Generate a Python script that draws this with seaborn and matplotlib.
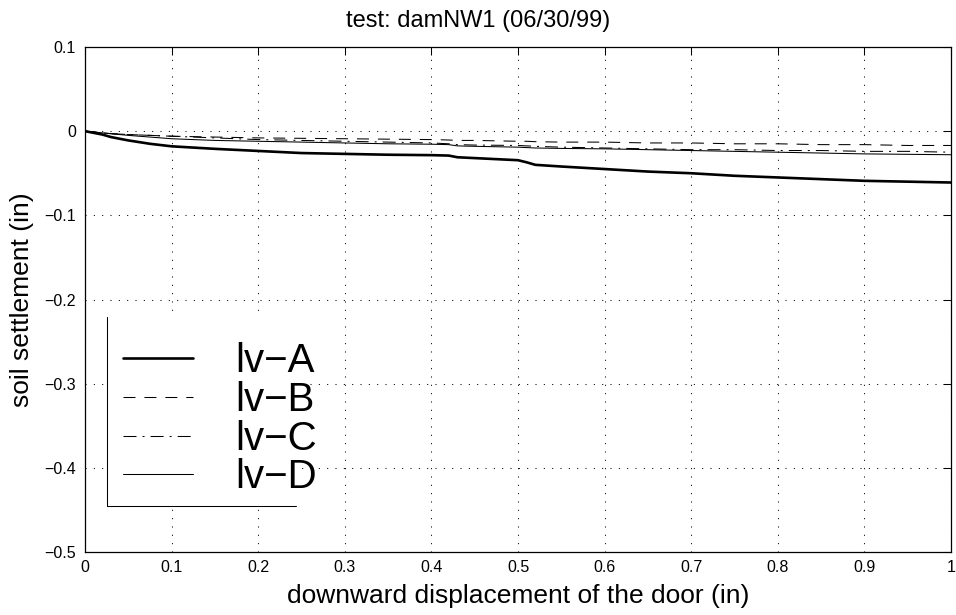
import numpy as np
import pandas as pd
import matplotlib
matplotlib.use("Agg")
import matplotlib.pyplot as plt
from matplotlib.lines import Line2D
from matplotlib.patches import Rectangle
from matplotlib.ticker import FixedLocator, FixedFormatter
import seaborn as sns

# downward displacement of the door (in)
disp = [0.0, 0.01, 0.02, 0.03, 0.05, 0.075, 0.10, 0.15, 0.20, 0.25, 0.30,
        0.35, 0.40, 0.42, 0.43, 0.45, 0.50, 0.51, 0.52, 0.55, 0.60, 0.65,
        0.70, 0.75, 0.80, 0.85, 0.90, 0.95, 1.00]

# soil settlement (in) for each gauge
lv_a = [0.0, -0.002, -0.004, -0.007, -0.011, -0.015, -0.018, -0.021, -0.0235,
        -0.026, -0.027, -0.028, -0.0285, -0.029, -0.031, -0.032, -0.0345,
        -0.037, -0.040, -0.042, -0.045, -0.048, -0.050, -0.053, -0.055,
        -0.057, -0.059, -0.060, -0.061]
lv_b = [0.0, -0.001, -0.002, -0.003, -0.004, -0.005, -0.006, -0.007, -0.008,
        -0.0085, -0.009, -0.0095, -0.010, -0.0105, -0.011, -0.011, -0.012,
        -0.012, -0.0125, -0.013, -0.013, -0.014, -0.014, -0.015, -0.015,
        -0.016, -0.016, -0.017, -0.017]
lv_c = [0.0, -0.001, -0.002, -0.003, -0.004, -0.005, -0.006, -0.008, -0.010,
        -0.011, -0.012, -0.013, -0.014, -0.015, -0.016, -0.0165, -0.017,
        -0.0175, -0.018, -0.019, -0.020, -0.021, -0.022, -0.022, -0.023,
        -0.023, -0.024, -0.024, -0.025]
lv_d = [0.0, -0.001, -0.002, -0.003, -0.005, -0.007, -0.009, -0.011, -0.012,
        -0.013, -0.014, -0.015, -0.0155, -0.016, -0.0175, -0.018, -0.019,
        -0.0195, -0.020, -0.0205, -0.021, -0.022, -0.023, -0.024, -0.025,
        -0.026, -0.027, -0.0275, -0.028]

series_names = ["lv\u2212A", "lv\u2212B", "lv\u2212C", "lv\u2212D"]

x_ticks = [0.0, 0.1, 0.2, 0.3, 0.4, 0.5, 0.6, 0.7, 0.8, 0.9, 1.0]
x_tick_labels = ["0", "0.1", "0.2", "0.3", "0.4", "0.5", "0.6", "0.7", "0.8", "0.9", "1"]
y_ticks = [0.1, 0.0, -0.1, -0.2, -0.3, -0.4, -0.5]
y_tick_labels = ["0.1", "0", "\u22120.1", "\u22120.2", "\u22120.3", "\u22120.4", "\u22120.5"]

sns.set_theme(style="white")
plt.rcParams["font.family"] = ["Liberation Sans", "DejaVu Sans"]
plt.rcParams["text.color"] = "black"
plt.rcParams["axes.labelcolor"] = "black"
plt.rcParams["xtick.color"] = "black"
plt.rcParams["ytick.color"] = "black"

W, H = 956, 615
left, right, top, bottom = 85.0, 951.0, 47.0, 552.0
fig = plt.figure(figsize=(W / 100, H / 100), dpi=100)
ax = fig.add_axes([left / W, 1 - bottom / H, (right - left) / W, (bottom - top) / H])
aw, ah = right - left, bottom - top


def ax_x(px):
    return (px - left) / aw


def ax_y(py):
    return (bottom - py) / ah


styles = [
    dict(linestyle="-", linewidth=1.9),
    dict(linestyle=(0, (11.5, 8.6)), linewidth=0.75),
    dict(linestyle=(0, (12.5, 5.8, 1.9, 5.8)), linewidth=0.75),
    dict(linestyle="-", linewidth=0.75),
]
for name, vals, st in zip(series_names, [lv_a, lv_b, lv_c, lv_d], styles):
    df = pd.DataFrame({"x": disp, "y": vals})
    sns.lineplot(data=df, x="x", y="y", ax=ax, color="black", estimator=None,
                 sort=False, label=name, **st)

ax.set_xlim(0, 1)
ax.set_ylim(-0.5, 0.1)
ax.xaxis.set_major_locator(FixedLocator(x_ticks))
ax.xaxis.set_major_formatter(FixedFormatter(x_tick_labels))
ax.yaxis.set_major_locator(FixedLocator(y_ticks))
ax.yaxis.set_major_formatter(FixedFormatter(y_tick_labels))

ax.grid(True, color="black", linestyle=(0, (1, 7)), linewidth=0.75)
ax.tick_params(direction="in", length=6, width=0.75, colors="black",
               labelsize=11.5, top=True, right=True)
ax.tick_params(axis="x", pad=6)
ax.tick_params(axis="y", pad=6.5)
for sp in ax.spines.values():
    sp.set_color("black")
    sp.set_linewidth(0.9)

ax.set_xlabel("downward displacement of the door (in)", fontsize=19, color="black")
ax.xaxis.set_label_coords(0.5, ax_y(603))
ax.xaxis.label.set_verticalalignment("baseline")

ax.set_ylabel("soil settlement (in)", fontsize=19, color="black")
ax.yaxis.set_label_coords(ax_x(22), 0.5)
ax.yaxis.label.set_verticalalignment("center")

ttl = ax.set_title("test: damNW1 (06/30/99)", fontsize=17, y=ax_y(27), pad=0,
                   color="black")
ttl.set_x(ax_x(478))

# legend box: white fill, only the left and bottom edges drawn
bx0, bx1, by0, by1 = ax_x(106.5), ax_x(296), ax_y(506), ax_y(317)
ax.add_patch(Rectangle((bx0, by0), bx1 - bx0, by1 - by0, transform=ax.transAxes,
                       facecolor="white", edgecolor="none", zorder=2.5, clip_on=False))
ax.add_line(Line2D([bx0, bx0], [by0, by1], transform=ax.transAxes,
                   color="black", linewidth=0.75, clip_on=False, zorder=3))
ax.add_line(Line2D([bx0, bx1], [by0, by0], transform=ax.transAxes,
                   color="black", linewidth=0.75, clip_on=False, zorder=3))

leg = ax.legend(loc="upper left", bbox_to_anchor=(ax_x(123), ax_y(342)),
                frameon=False, fontsize=29, handlelength=1.74, handletextpad=1.05,
                labelspacing=0.02, borderaxespad=0, borderpad=0, labelcolor="black")
leg.set_zorder(4)
for h in leg.get_lines():
    h.set_color("black")

fig.savefig("out.png", dpi=100, facecolor="white")
